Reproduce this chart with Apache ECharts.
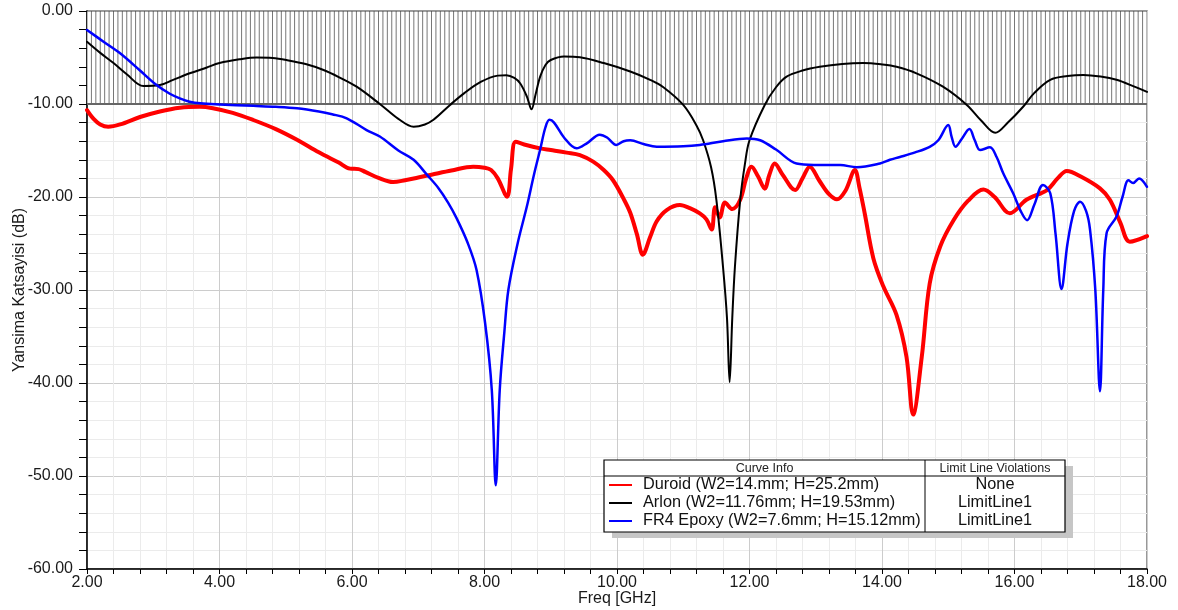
<!DOCTYPE html>
<html><head><meta charset="utf-8">
<script src="https://cdn.jsdelivr.net/npm/echarts@6/dist/echarts.min.js"></script>
<style>html,body{margin:0;padding:0;background:#fff}#c{width:1178px;height:610px}</style>
</head><body><div id="c"></div>
<script>
// ---- data ----
const duroidFreq=[2.00,2.10,2.20,2.32,2.50,2.80,3.10,3.40,3.70,3.90,4.20,4.51,4.85,5.17,5.50,5.80,5.97,6.10,6.20,6.40,6.62,6.80,7.00,7.20,7.50,7.83,8.00,8.10,8.20,8.34,8.40,8.47,8.60,8.84,9.00,9.24,9.44,9.64,9.80,9.94,10.10,10.20,10.30,10.39,10.50,10.60,10.75,10.95,11.10,11.25,11.35,11.43,11.48,11.55,11.63,11.74,11.86,11.95,12.03,12.13,12.23,12.30,12.38,12.50,12.69,12.80,12.91,13.05,13.20,13.32,13.45,13.59,13.66,13.74,13.87,14.02,14.22,14.37,14.47,14.60,14.72,14.88,15.08,15.30,15.53,15.70,15.93,16.18,16.49,16.65,16.79,17.00,17.29,17.44,17.60,17.74,18.00];
const duroidDb=[-10.65,-11.6,-12.2,-12.45,-12.2,-11.4,-10.8,-10.4,-10.3,-10.45,-10.95,-11.72,-12.7,-13.85,-15.2,-16.3,-16.95,-17.0,-17.3,-17.95,-18.4,-18.2,-17.9,-17.6,-17.15,-16.74,-16.85,-17.1,-18.0,-19.96,-17.0,-14.05,-14.35,-14.77,-14.95,-15.23,-15.5,-16.2,-17.1,-18.2,-20.2,-21.7,-24.0,-26.2,-24.3,-22.6,-21.4,-20.86,-21.2,-21.76,-22.4,-23.5,-21.1,-22.2,-20.6,-21.3,-20.3,-18.0,-16.74,-17.8,-19.1,-17.6,-16.4,-17.6,-19.25,-18.0,-16.74,-18.2,-19.7,-20.25,-19.3,-17.1,-19.0,-21.8,-26.6,-29.6,-32.7,-37.2,-43.4,-37.2,-29.3,-25.3,-22.5,-20.4,-19.2,-20.0,-21.75,-20.3,-19.25,-18.0,-17.2,-17.8,-19.07,-20.3,-22.8,-24.8,-24.2];

const arlonFreq=[2.00,2.20,2.40,2.60,2.85,3.10,3.30,3.55,3.80,4.00,4.30,4.56,4.80,5.01,5.30,5.57,5.80,6.07,6.42,6.70,6.93,7.10,7.23,7.48,7.70,7.95,8.20,8.33,8.45,8.54,8.64,8.71,8.77,8.84,8.92,9.00,9.20,9.44,9.80,10.20,10.50,10.70,11.00,11.20,11.30,11.42,11.50,11.60,11.66,11.70,11.74,11.78,11.86,11.93,12.00,12.23,12.40,12.56,12.80,13.06,13.40,13.72,14.00,14.22,14.52,14.92,15.28,15.50,15.71,15.90,16.13,16.30,16.54,16.80,17.04,17.30,17.54,17.80,18.00];
const arlonDb=[-3.3,-4.5,-5.6,-6.8,-8.06,-7.96,-7.4,-6.7,-6.1,-5.6,-5.2,-5.0,-5.05,-5.27,-5.7,-6.34,-7.1,-8.14,-10.0,-11.6,-12.44,-12.2,-11.7,-10.1,-8.8,-7.6,-6.95,-6.9,-7.2,-7.8,-9.2,-10.57,-9.0,-7.06,-5.8,-5.27,-4.9,-4.98,-5.6,-6.5,-7.4,-8.2,-10.1,-12.3,-13.9,-16.8,-20.3,-27.5,-33.0,-39.9,-33.0,-27.5,-20.3,-16.5,-13.9,-10.1,-8.2,-7.06,-6.4,-6.0,-5.7,-5.6,-5.75,-6.0,-6.7,-8.14,-10.1,-11.8,-13.1,-12.0,-10.3,-8.8,-7.4,-7.0,-6.88,-7.05,-7.4,-8.1,-8.7];

const fr4Freq=[2.00,2.25,2.50,2.80,3.05,3.25,3.40,3.55,3.71,4.00,4.51,4.85,5.17,5.50,5.70,5.92,6.22,6.42,6.70,6.93,7.13,7.30,7.45,7.58,7.75,7.88,8.01,8.11,8.17,8.23,8.30,8.36,8.50,8.64,8.75,8.84,8.92,8.98,9.05,9.20,9.39,9.55,9.74,9.85,9.99,10.10,10.20,10.40,10.60,11.00,11.25,11.60,11.96,12.16,12.40,12.71,13.00,13.37,13.62,13.97,14.12,14.27,14.50,14.72,14.85,15.00,15.05,15.11,15.20,15.32,15.40,15.48,15.63,15.73,15.83,15.98,16.10,16.19,16.30,16.43,16.54,16.62,16.71,16.80,16.90,16.99,17.08,17.14,17.22,17.29,17.34,17.39,17.54,17.63,17.72,17.79,17.88,18.00];
const fr4Db=[-2.04,-3.3,-4.55,-6.4,-7.96,-8.9,-9.39,-9.75,-9.93,-10.05,-10.2,-10.3,-10.46,-10.8,-11.1,-11.54,-12.8,-13.5,-15.0,-16.0,-17.6,-19.0,-20.6,-22.3,-25.0,-27.85,-33.6,-40.75,-51.0,-40.75,-34.5,-30.0,-25.0,-21.0,-17.5,-14.9,-12.5,-11.7,-12.0,-13.6,-14.77,-14.2,-13.3,-13.6,-14.4,-14.0,-13.9,-14.3,-14.6,-14.55,-14.4,-14.0,-13.7,-13.9,-14.9,-16.4,-16.55,-16.56,-16.8,-16.4,-16.0,-15.7,-15.2,-14.6,-13.9,-12.26,-13.5,-14.6,-13.8,-12.7,-13.9,-14.95,-14.66,-15.7,-17.45,-19.6,-21.6,-22.5,-20.8,-18.7,-19.6,-24.0,-29.9,-25.0,-21.5,-20.5,-21.5,-23.5,-30.0,-40.9,-30.0,-23.9,-22.1,-20.0,-18.2,-18.5,-18.0,-18.9];

const curveNames=['Duroid (W2=14.mm; H=25.2mm)','Arlon (W2=11.76mm; H=19.53mm)','FR4 Epoxy (W2=7.6mm; H=15.12mm)'];
const violations=['None','LimitLine1','LimitLine1'];
const tableHeaders=['Curve Info','Limit Line Violations'];
const xAxisTitle='Freq [GHz]';
const yAxisTitle='Yansima Katsayisi (dB)';
const limitRegion=[2,18,-10,0]; // freq start, freq end, limit dB, top dB
const hatchStep=1/15;

// ---- chart ----
const colors=['#ff0000','#000000','#0000ff'];
const widths=[4,2,2.5];
const FONT="'Liberation Sans', Arial, sans-serif";
function zip(a,b){return a.map((v,i)=>[v,b[i]]);}
const seriesData=[zip(duroidFreq,duroidDb),zip(arlonFreq,arlonDb),zip(fr4Freq,fr4Db)];

const chart=echarts.init(document.getElementById('c'),null,{renderer:'canvas'});

const hatchSeries={
  type:'custom',coordinateSystem:'cartesian2d',silent:true,z:1,clip:true,
  data:[limitRegion],
  encode:{x:[0,1],y:[2,3]},
  renderItem:function(params,api){
    const f0=api.value(0),f1=api.value(1),yb=api.value(2),yt=api.value(3);
    const tl=api.coord([f0,yt]),br=api.coord([f1,yb]);
    const ch=[{type:'rect',shape:{x:tl[0],y:tl[1],width:br[0]-tl[0],height:br[1]-tl[1]},style:{fill:'#ffffff'}}];
    const n=Math.round((f1-f0)/hatchStep);
    for(let i=0;i<=n;i++){
      const f=f0+i*hatchStep;
      const pb=api.coord([f,yb]),pt=api.coord([f,yt]);
      ch.push({type:'line',shape:{x1:pb[0],y1:pb[1],x2:pt[0],y2:pt[1]},style:{stroke:'#777777',lineWidth:1}});
    }
    ch.push({type:'line',shape:{x1:tl[0],y1:br[1],x2:br[0],y2:br[1]},style:{stroke:'#666666',lineWidth:2}});
    ch.push({type:'line',shape:{x1:tl[0],y1:tl[1],x2:br[0],y2:tl[1]},style:{stroke:'#444444',lineWidth:1}});
    return {type:'group',children:ch};
  }
};

const lineSeries=curveNames.map((name,i)=>({
  type:'line',name:name,data:seriesData[i],showSymbol:false,symbol:'none',
  smooth:0.35,z:3+i,
  lineStyle:{color:colors[i],width:widths[i],join:'round',cap:'round'},
  itemStyle:{color:colors[i]},animation:false
}));

// table (legend) graphic
const tx=604,ty=460,tw=461,th=72,divX=925,hdrY=476;
const rowY=[485,503,521];
const g=[];
g.push({type:'rect',shape:{x:tx+8,y:ty+6,width:tw,height:th},style:{fill:'#c6c6c6'},z:100});
g.push({type:'rect',shape:{x:tx,y:ty,width:tw,height:th},style:{fill:'#ffffff',stroke:'#000',lineWidth:1.2},z:101});
g.push({type:'line',shape:{x1:tx,y1:hdrY,x2:tx+tw,y2:hdrY},style:{stroke:'#000',lineWidth:1},z:102});
g.push({type:'line',shape:{x1:divX,y1:ty,x2:divX,y2:ty+th},style:{stroke:'#000',lineWidth:1},z:102});
g.push({type:'text',style:{text:tableHeaders[0],x:(tx+divX)/2,y:(ty+hdrY)/2+1,textAlign:'center',textVerticalAlign:'middle',font:'12.5px '+FONT,fill:'#222'},z:103});
g.push({type:'text',style:{text:tableHeaders[1],x:(divX+tx+tw)/2,y:(ty+hdrY)/2+1,textAlign:'center',textVerticalAlign:'middle',font:'12.5px '+FONT,fill:'#222'},z:103});
curveNames.forEach((nm,i)=>{
  g.push({type:'line',shape:{x1:tx+5,y1:rowY[i],x2:tx+28,y2:rowY[i]},style:{stroke:colors[i],lineWidth:2},z:103});
  g.push({type:'text',style:{text:nm,x:tx+39,y:rowY[i],textAlign:'left',textVerticalAlign:'middle',font:'16.3px '+FONT,fill:'#111'},z:103});
  g.push({type:'text',style:{text:violations[i],x:(divX+tx+tw)/2,y:rowY[i],textAlign:'center',textVerticalAlign:'middle',font:'16.3px '+FONT,fill:'#111'},z:103});
});

const option={
  backgroundColor:'#ffffff',
  animation:false,
  grid:{left:87,right:31,top:11,bottom:41,containLabel:false,outerBoundsMode:'none',show:true,borderColor:'#777',borderWidth:1.5,backgroundColor:'transparent'},
  xAxis:{
    type:'value',min:2,max:18,interval:2,
    name:xAxisTitle,nameLocation:'middle',nameGap:22,nameMoveOverlap:false,
    nameTextStyle:{fontFamily:FONT,fontSize:16,color:'#1a1a1a'},
    axisLine:{show:true,onZero:false,lineStyle:{color:'#000',width:1.5}},
    axisTick:{show:true,length:5,lineStyle:{color:'#000'}},
    minorTick:{show:true,splitNumber:5,length:5,lineStyle:{color:'#000'}},
    axisLabel:{fontFamily:FONT,fontSize:16,color:'#1a1a1a',margin:6,formatter:v=>v.toFixed(2)},
    splitLine:{show:true,lineStyle:{color:'#cccccc',width:1}},
    minorSplitLine:{show:true,lineStyle:{color:'#ebebeb',width:1}}
  },
  yAxis:{
    type:'value',min:-60,max:0,interval:10,
    name:yAxisTitle,nameLocation:'middle',nameGap:59,nameRotate:90,nameMoveOverlap:false,
    nameTextStyle:{fontFamily:FONT,fontSize:16,color:'#1a1a1a'},
    axisLine:{show:true,onZero:false,lineStyle:{color:'#000',width:1.5}},
    axisTick:{show:true,length:8,lineStyle:{color:'#000'}},
    minorTick:{show:true,splitNumber:5,length:8,lineStyle:{color:'#000'}},
    axisLabel:{fontFamily:FONT,fontSize:16,color:'#1a1a1a',margin:14,formatter:v=>v.toFixed(2)},
    splitLine:{show:true,lineStyle:{color:'#cccccc',width:1}},
    minorSplitLine:{show:true,lineStyle:{color:'#ebebeb',width:1}}
  },
  series:[hatchSeries].concat(lineSeries),
  graphic:g
};
chart.setOption(option);
</script></body></html>
